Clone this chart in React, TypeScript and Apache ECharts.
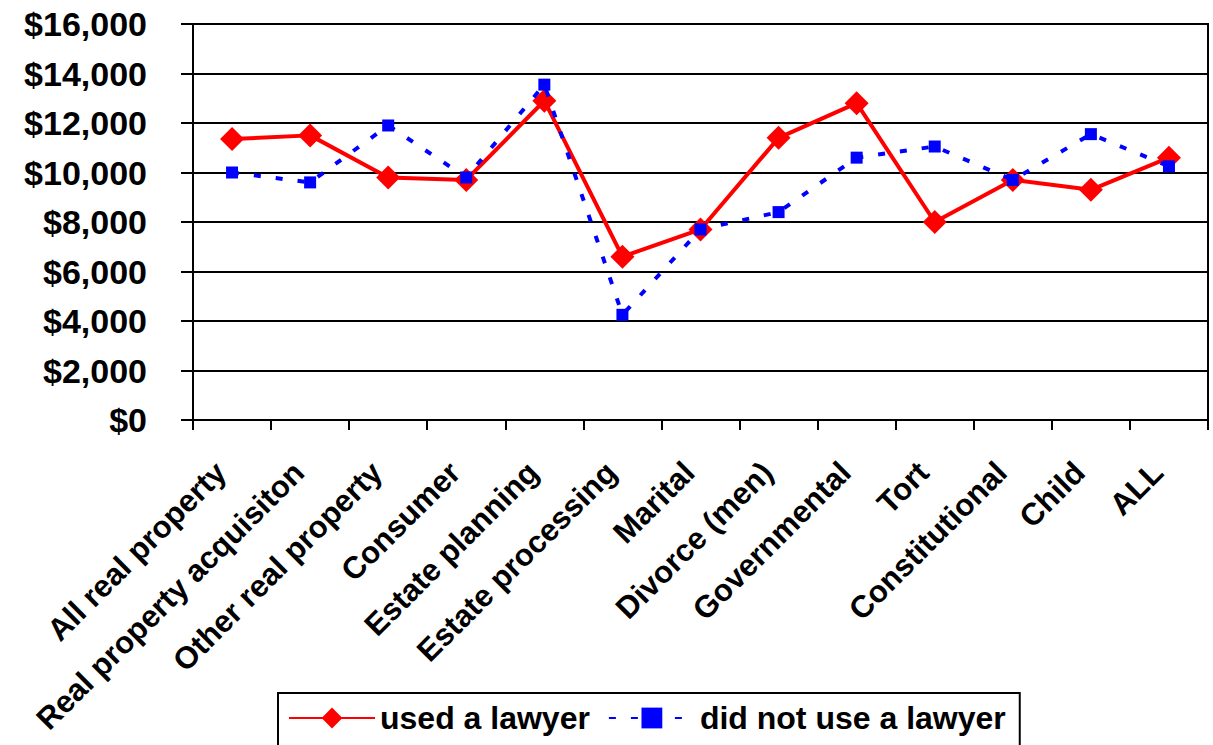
import React, { useEffect, useRef } from "react";
import * as echarts from "echarts";

const categories = [
  "All real property",
  "Real property acquisiton",
  "Other real property",
  "Consumer",
  "Estate planning",
  "Estate processing",
  "Marital",
  "Divorce (men)",
  "Governmental",
  "Tort",
  "Constitutional",
  "Child",
  "ALL",
];

const usedLawyer = [11350, 11500, 9800, 9700, 12900, 6600, 7700, 11400, 12800, 8000, 9700, 9300, 10600];
const noLawyer = [10000, 9600, 11900, 9800, 13550, 4250, 7700, 8400, 10600, 11050, 9700, 11550, 10250];

const yTicks = { min: 0, max: 16000, interval: 2000 };
const FONT = "'Liberation Sans', Arial, sans-serif";

export default function App() {
  const ref = useRef<HTMLDivElement>(null);
  useEffect(() => {
    if (!ref.current) return;
    const chart = echarts.init(ref.current, null, { renderer: "svg" });
    chart.setOption({
      animation: false,
      textStyle: { fontFamily: FONT },
      grid: {
        left: 193,
        right: 5,
        top: 24,
        bottom: 325,
        show: true,
        borderColor: "#000",
        borderWidth: 2,
        backgroundColor: "transparent",
      },
      legend: {
        left: 278,
        top: 693,
        padding: [9, 14, 14, 10],
        borderColor: "#000",
        borderWidth: 2,
        itemGap: 18,
        itemWidth: 86,
        itemHeight: 26,
        textStyle: { fontSize: 32, fontWeight: "bold", color: "#000", fontFamily: FONT },
        data: ["used a lawyer", "did not use a lawyer"],
      },
      xAxis: {
        type: "category",
        data: categories,
        boundaryGap: true,
        axisLine: { lineStyle: { color: "#000", width: 2 } },
        axisTick: { show: true, length: 10, lineStyle: { color: "#000", width: 2 } },
        axisLabel: {
          interval: 0,
          rotate: 45,
          margin: 36,
          padding: [0, 16, 0, 0],
          fontSize: 31,
          fontWeight: "bold",
          color: "#000",
          fontFamily: FONT,
        },
      },
      yAxis: {
        type: "value",
        min: yTicks.min,
        max: yTicks.max,
        interval: yTicks.interval,
        axisLine: { show: true, lineStyle: { color: "#000", width: 2 } },
        axisTick: { show: true, length: 12, lineStyle: { color: "#000", width: 2 } },
        splitLine: { lineStyle: { color: "#000", width: 2 } },
        axisLabel: {
          margin: 46,
          fontSize: 34,
          fontWeight: "bold",
          color: "#000",
          fontFamily: FONT,
          formatter: (v: number) => "$" + v.toLocaleString("en-US"),
        },
      },
      series: [
        {
          name: "used a lawyer",
          type: "line",
          data: usedLawyer,
          symbol: "diamond",
          symbolSize: 24,
          itemStyle: { color: "#ff0000" },
          lineStyle: { color: "#ff0000", width: 4 },
          z: 2,
        },
        {
          name: "did not use a lawyer",
          type: "line",
          data: noLawyer,
          symbol: "rect",
          symbolSize: 12,
          itemStyle: { color: "#0000ff" },
          lineStyle: { color: "#0000ff", width: 4, type: [7, 15] },
          z: 3,
        },
      ],
    });
    return () => chart.dispose();
  }, []);
  return (
    <div
      ref={ref}
      style={{ position: "absolute", left: 0, top: 0, width: 1213, height: 745 }}
    />
  );
}
